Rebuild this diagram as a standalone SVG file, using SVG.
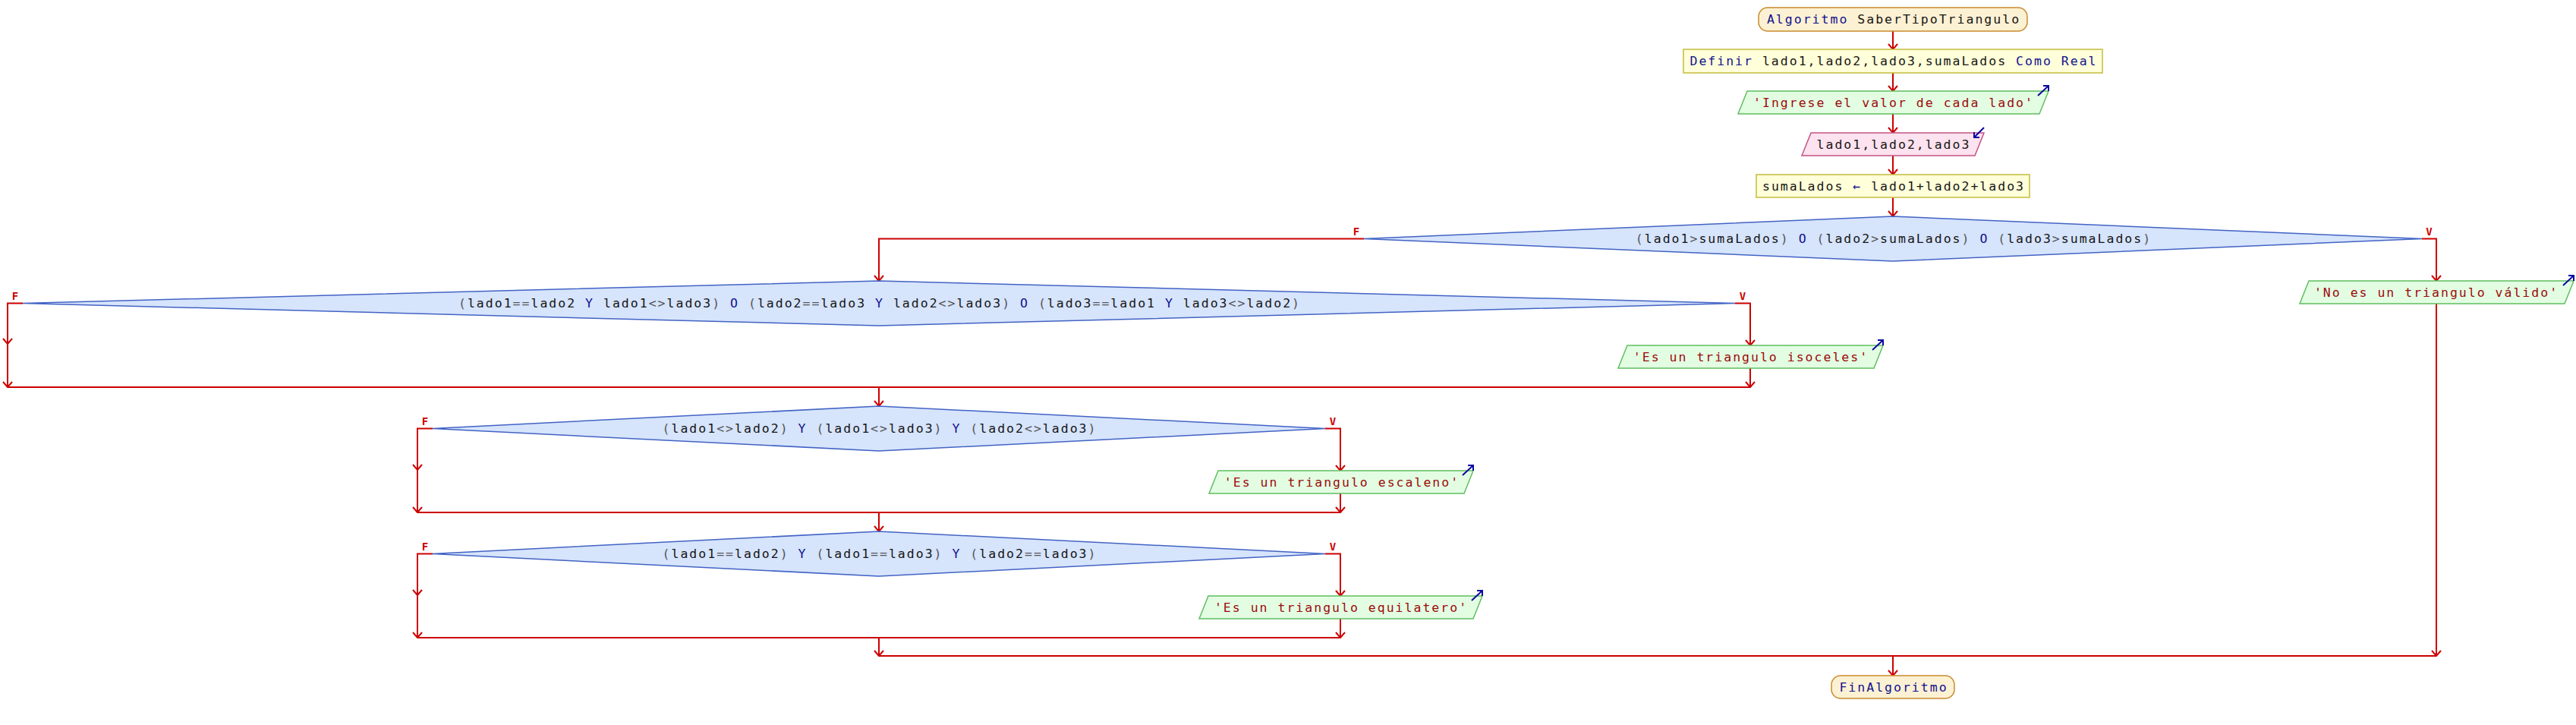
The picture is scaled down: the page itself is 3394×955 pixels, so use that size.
<svg xmlns="http://www.w3.org/2000/svg" width="3394" height="955" viewBox="0 0 3394 955">
<defs>
<style>
text{font-family:"DejaVu Sans Mono","Liberation Mono",monospace;font-size:16.5px;letter-spacing:2px;fill:#151515;text-anchor:middle}
.k{fill:#12128f}
.s{fill:#9c0a0a}
.o{fill:#555555}
.lbl{font-size:14px;font-weight:bold;fill:#cc0000;letter-spacing:0}
.term{fill:#fdf1d3;stroke:#c98a2c;stroke-width:1.5}
.proc{fill:#ffffd9;stroke:#c4bc3c;stroke-width:1.5}
.out{fill:#e3fde3;stroke:#5fbf5f;stroke-width:1.5}
.in{fill:#fde2ef;stroke:#c45384;stroke-width:1.5}
.dec{fill:#d6e4fc;stroke:#4263c4;stroke-width:1.5}
.io{fill:none;stroke:#0a0aa0;stroke-width:2}
</style>
<marker id="ah" viewBox="0 0 14 14" refX="13" refY="7" markerWidth="14" markerHeight="14" orient="auto" markerUnits="userSpaceOnUse">
<path d="M6,1 L13,7 L6,13" fill="none" stroke="#cc0000" stroke-width="2"/>
</marker>
</defs>
<rect width="3394" height="955" fill="#ffffff"/>

<g id="connectors" fill="none" stroke="#cc0000" stroke-width="2">
<line x1="2494" y1="41" x2="2494" y2="65" marker-end="url(#ah)"/>
<line x1="2494" y1="96" x2="2494" y2="120" marker-end="url(#ah)"/>
<line x1="2494" y1="150" x2="2494" y2="175" marker-end="url(#ah)"/>
<line x1="2494" y1="205" x2="2494" y2="230" marker-end="url(#ah)"/>
<line x1="2494" y1="260" x2="2494" y2="285" marker-end="url(#ah)"/>
<polyline points="1797,314.5 1158,314.5 1158,370" marker-end="url(#ah)"/>
<polyline points="3191,314.5 3210,314.5 3210,370" marker-end="url(#ah)"/>
<line x1="3210" y1="400" x2="3210" y2="864" marker-end="url(#ah)"/>
<polyline points="30,399.5 10,399.5 10,453" marker-end="url(#ah)"/>
<line x1="10" y1="453" x2="10" y2="510" marker-end="url(#ah)"/>
<polyline points="2286,399.5 2306,399.5 2306,455" marker-end="url(#ah)"/>
<line x1="2306" y1="485" x2="2306" y2="510" marker-end="url(#ah)"/>
<line x1="10" y1="510" x2="2306" y2="510"/>
<line x1="1158" y1="510" x2="1158" y2="535" marker-end="url(#ah)"/>
<polyline points="570,564.5 550,564.5 550,619" marker-end="url(#ah)"/>
<line x1="550" y1="619" x2="550" y2="675" marker-end="url(#ah)"/>
<polyline points="1746,564.5 1766,564.5 1766,620" marker-end="url(#ah)"/>
<line x1="1766" y1="650" x2="1766" y2="675" marker-end="url(#ah)"/>
<line x1="550" y1="675" x2="1766" y2="675"/>
<line x1="1158" y1="675" x2="1158" y2="700" marker-end="url(#ah)"/>
<polyline points="570,729.5 550,729.5 550,784" marker-end="url(#ah)"/>
<line x1="550" y1="784" x2="550" y2="840" marker-end="url(#ah)"/>
<polyline points="1746,729.5 1766,729.5 1766,785" marker-end="url(#ah)"/>
<line x1="1766" y1="815" x2="1766" y2="840" marker-end="url(#ah)"/>
<line x1="550" y1="840" x2="1766" y2="840"/>
<line x1="1158" y1="840" x2="1158" y2="864" marker-end="url(#ah)"/>
<line x1="1158" y1="864" x2="3210" y2="864"/>
<line x1="2494" y1="864" x2="2494" y2="890" marker-end="url(#ah)"/>
</g>

<g id="branch-labels">
<text class="lbl" x="1787" y="310">F</text>
<text class="lbl" x="3200.5" y="310">V</text>
<text class="lbl" x="20" y="395">F</text>
<text class="lbl" x="2296" y="395">V</text>
<text class="lbl" x="560" y="560">F</text>
<text class="lbl" x="1756" y="560">V</text>
<text class="lbl" x="560" y="725">F</text>
<text class="lbl" x="1756" y="725">V</text>
</g>

<g id="start">
<rect class="term" x="2317" y="10" width="354" height="31" rx="12" ry="12"/>
<text x="2495" y="31"><tspan class="k">Algoritmo</tspan> SaberTipoTriangulo</text>
</g>

<g id="definir">
<rect class="proc" x="2218" y="65" width="552" height="31"/>
<text x="2495" y="86"><tspan class="k">Definir</tspan> lado1,lado2,lado3,sumaLados <tspan class="k">Como</tspan> <tspan class="k">Real</tspan></text>
</g>

<g id="escribir-ingrese">
<polygon class="out" points="2302,120 2699,120 2687,150 2290,150"/>
<text class="s" x="2495" y="140.5">'Ingrese el valor de cada lado'</text>
<path class="io" d="M2685,126 L2699,113 M2692,113 L2699,113 L2699,120"/>
</g>

<g id="leer">
<polygon class="in" points="2386,175 2614,175 2602,205 2374,205"/>
<text x="2495" y="195.5">lado1,lado2,lado3</text>
<path class="io" d="M2614,168 L2601,181 M2601,174 L2601,181 L2608,181"/>
</g>

<g id="asignacion">
<rect class="proc" x="2314" y="230" width="360" height="30"/>
<text x="2495" y="250.5">sumaLados <tspan class="k">←</tspan> lado1+lado2+lado3</text>
</g>

<g id="decision1">
<polygon class="dec" points="2494,285 3191,314.5 2494,344 1797,314.5"/>
<text x="2495" y="320"><tspan class="o">(</tspan>lado1<tspan class="o">&gt;</tspan>sumaLados<tspan class="o">)</tspan> <tspan class="k">O</tspan> <tspan class="o">(</tspan>lado2<tspan class="o">&gt;</tspan>sumaLados<tspan class="o">)</tspan> <tspan class="k">O</tspan> <tspan class="o">(</tspan>lado3<tspan class="o">&gt;</tspan>sumaLados<tspan class="o">)</tspan></text>
</g>

<g id="escribir-novalido">
<polygon class="out" points="3042,370 3391,370 3379,400 3030,400"/>
<text class="s" x="3210" y="390.5">'No es un triangulo válido'</text>
<path class="io" d="M3377,376 L3391,363 M3384,363 L3391,363 L3391,370"/>
</g>

<g id="decision2">
<polygon class="dec" points="1158,370 2286,399.5 1158,429 30,399.5"/>
<text x="1159" y="405"><tspan class="o">(</tspan>lado1<tspan class="o">==</tspan>lado2 <tspan class="k">Y</tspan> lado1<tspan class="o">&lt;&gt;</tspan>lado3<tspan class="o">)</tspan> <tspan class="k">O</tspan> <tspan class="o">(</tspan>lado2<tspan class="o">==</tspan>lado3 <tspan class="k">Y</tspan> lado2<tspan class="o">&lt;&gt;</tspan>lado3<tspan class="o">)</tspan> <tspan class="k">O</tspan> <tspan class="o">(</tspan>lado3<tspan class="o">==</tspan>lado1 <tspan class="k">Y</tspan> lado3<tspan class="o">&lt;&gt;</tspan>lado2<tspan class="o">)</tspan></text>
</g>

<g id="escribir-isoceles">
<polygon class="out" points="2144,455 2481,455 2469,485 2132,485"/>
<text class="s" x="2307" y="475.5">'Es un triangulo isoceles'</text>
<path class="io" d="M2467,461 L2481,448 M2474,448 L2481,448 L2481,455"/>
</g>

<g id="decision3">
<polygon class="dec" points="1158,535 1746,564.5 1158,594 570,564.5"/>
<text x="1159" y="570"><tspan class="o">(</tspan>lado1<tspan class="o">&lt;&gt;</tspan>lado2<tspan class="o">)</tspan> <tspan class="k">Y</tspan> <tspan class="o">(</tspan>lado1<tspan class="o">&lt;&gt;</tspan>lado3<tspan class="o">)</tspan> <tspan class="k">Y</tspan> <tspan class="o">(</tspan>lado2<tspan class="o">&lt;&gt;</tspan>lado3<tspan class="o">)</tspan></text>
</g>

<g id="escribir-escaleno">
<polygon class="out" points="1605,620 1941,620 1929,650 1593,650"/>
<text class="s" x="1768" y="640.5">'Es un triangulo escaleno'</text>
<path class="io" d="M1927,626 L1941,613 M1934,613 L1941,613 L1941,620"/>
</g>

<g id="decision4">
<polygon class="dec" points="1158,700 1746,729.5 1158,759 570,729.5"/>
<text x="1159" y="735"><tspan class="o">(</tspan>lado1<tspan class="o">==</tspan>lado2<tspan class="o">)</tspan> <tspan class="k">Y</tspan> <tspan class="o">(</tspan>lado1<tspan class="o">==</tspan>lado3<tspan class="o">)</tspan> <tspan class="k">Y</tspan> <tspan class="o">(</tspan>lado2<tspan class="o">==</tspan>lado3<tspan class="o">)</tspan></text>
</g>

<g id="escribir-equilatero">
<polygon class="out" points="1592,785 1953,785 1941,815 1580,815"/>
<text class="s" x="1767" y="805.5">'Es un triangulo equilatero'</text>
<path class="io" d="M1939,791 L1953,778 M1946,778 L1953,778 L1953,785"/>
</g>

<g id="end">
<rect class="term" x="2413" y="890" width="162" height="30" rx="12" ry="12"/>
<text class="k" x="2495" y="910.5">FinAlgoritmo</text>
</g>
</svg>
